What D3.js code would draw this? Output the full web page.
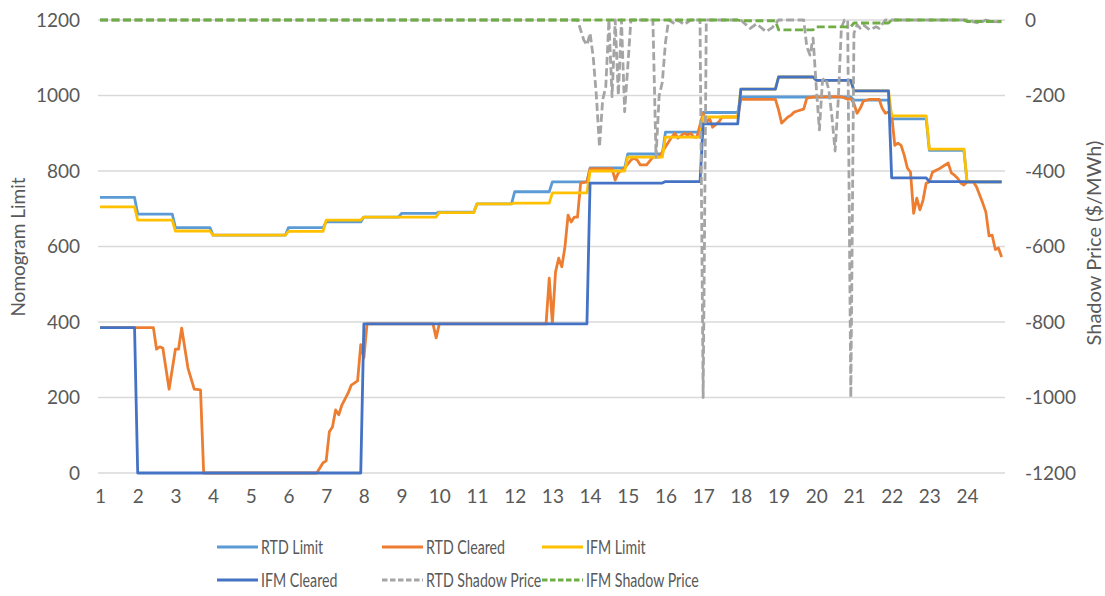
<!DOCTYPE html>
<html>
<head>
<meta charset="utf-8">
<script src="https://cdn.jsdelivr.net/npm/d3@7"></script>
<style>
  body { margin: 0; background: #fff; }
  text { font-family: Lato, "Noto Sans", sans-serif; fill: #595959; }
</style>
</head>
<body>
<svg id="chart" width="1105" height="596"></svg>
<script>
// ---- data -------------------------------------------------------------
// Hour labels for the category axis (one label every 12 five-minute intervals)
const hourTicks = ["1","2","3","4","5","6","7","8","9","10","11","12",
                   "13","14","15","16","17","18","19","20","21","22","23","24"];
const limitTicks = [0, 200, 400, 600, 800, 1000, 1200];
const priceTicks = [-1200, -1000, -800, -600, -400, -200, 0];

// Hourly values (MW) – applied to every 5-minute interval of the hour
const rtdLimitHourly   = [730, 686, 650, 630, 630, 650, 665, 678, 688, 691, 713, 745,
                          771, 808, 845, 903, 955, 996, 996, 996, 988, 938, 855, 771];
const ifmLimitHourly   = [705, 670, 641, 630, 630, 640, 670, 678, 678, 690, 713, 715,
                          742, 800, 837, 890, 943, 1017, 1049, 1040, 1012, 946, 858, 771];
const ifmClearedHourly = [385, 0, 0, 0, 0, 0, 0, 395, 395, 395, 395, 395,
                          395, 768, 768, 772, 925, 1017, 1049, 1040, 1012, 782, 772, 771];
// Hourly IFM shadow price ($/MWh)
const ifmShadowHourly  = [0, 0, 0, 0, 0, 0, 0, 0, 0, 0, 0, 0,
                          0, 0, 0, 0, 0, -2, -26, -18, -8, 0, 0, -4];

// Real-time cleared flow: [5-minute interval, MW]
const rtdCleared = [
  [0,385],[17,385],[18,328],[19,334],[20,331],[22,222],[24,328],[25,328],[26,384],[28,278],
  [30,222],[32,220],[33,0],[69,0],[71,27],[72,32],[73,109],[74,122],[75,167],[76,154],
  [77,180],[79,212],[80,233],[82,244],[83,340],[84,305],[85,395],[106,395],[107,358],[108,395],
  [142,395],[143,516],[144,397],[145,532],[146,569],[147,546],[148,599],[149,683],[150,665],[151,678],
  [152,678],[153,768],[155,771],[156,806],[163,806],[164,776],[165,795],[167,808],[169,829],[170,834],
  [171,829],[172,816],[174,816],[176,837],[178,837],[180,864],[181,877],[182,890],[183,900],[184,887],
  [186,900],[187,895],[188,900],[189,890],[190,890],[191,922],[192,953],[193,927],[194,940],[195,916],
  [197,930],[198,943],[203,943],[204,990],[215,990],[216,962],[217,927],[219,943],[220,948],[221,956],
  [222,959],[224,964],[225,993],[227,996],[236,997],[238,990],[239,992],[240,978],[241,953],[242,966],
  [243,985],[245,990],[248,990],[249,966],[250,953],[251,956],[252,950],[253,868],[254,874],[255,868],
  [256,842],[257,808],[258,797],[259,688],[260,728],[261,697],[262,723],[263,768],[264,771],[265,797],
  [267,805],[269,816],[270,821],[271,795],[272,789],[273,781],[274,768],[275,763],[276,771],[278,771],
  [279,758],[281,715],[282,691],[283,628],[284,630],[285,592],[286,596],[287,572]
];

// Real-time shadow price: [5-minute interval, $/MWh]
const rtdShadow = [
  [0,0],[152,0],[154,-53],[155,-66],[156,-35],[157,-98],[158,-200],[159,-336],[160,-212],[161,-177],
  [162,0],[163,-203],[164,0],[165,-199],[166,0],[167,-243],[168,-124],[169,0],[176,0],[177,-363],
  [178,-200],[179,-165],[180,-60],[181,0],[183,-10],[184,0],[186,-12],[188,0],[191,0],[192,-1000],
  [193,0],[204,0],[205,-8],[207,-22],[209,-10],[212,-31],[214,-20],[216,0],[224,0],[225,-71],
  [226,-93],[227,-48],[228,-177],[229,-291],[230,-159],[231,-154],[232,-185],[233,-257],[234,-347],[235,-212],
  [236,-20],[237,0],[238,0],[239,-1000],[240,-35],[241,-13],[242,-22],[243,-13],[245,-26],[247,-18],
  [248,-22],[250,0],[277,0],[278,-5],[280,-8],[282,0],[284,-4],[287,-5]
];

// ---- helpers ------------------------------------------------------------
const PER_HOUR = 12;
const toIntervals = hourly => hourly.flatMap((v, h) => d3.range(PER_HOUR).map(j => [h * PER_HOUR + j, v]));
const plainNumber = d => String(d);   // no thousands separator, ASCII minus

// ---- layout -------------------------------------------------------------
const svg = d3.select("#chart");
const plot = { left: 100, right: 1001.6, top: 20, bottom: 473, gridLeft: 98, gridRight: 1005 };

const x = d3.scaleLinear().domain([0, 287]).range([plot.left, plot.right]);
const yL = d3.scaleLinear().domain([0, 1200]).range([plot.bottom, plot.top]);
const yR = d3.scaleLinear().domain([-1200, 0]).range([plot.bottom, plot.top]);

// gridlines
svg.append("g").selectAll("line").data(limitTicks).join("line")
  .attr("x1", plot.gridLeft).attr("x2", plot.gridRight)
  .attr("y1", d => yL(d)).attr("y2", d => yL(d))
  .attr("stroke", "#d9d9d9").attr("stroke-width", 1.3);

// axes
const styleAxis = g => {
  g.select(".domain").remove();
  g.selectAll("text").attr("font-size", 19).style("fill", "#595959")
    .attr("font-family", "Lato, 'Noto Sans', sans-serif");
};
svg.append("g").attr("transform", `translate(${plot.gridLeft},0)`)
  .call(d3.axisLeft(yL).tickValues(limitTicks).tickFormat(plainNumber).tickSize(0).tickPadding(18))
  .call(styleAxis);
svg.append("g").attr("transform", `translate(${plot.gridRight},0)`)
  .call(d3.axisRight(yR).tickValues(priceTicks).tickFormat(plainNumber).tickSize(0).tickPadding(20))
  .call(styleAxis);
svg.append("g").attr("transform", `translate(0,${plot.bottom})`)
  .call(d3.axisBottom(x).tickValues(hourTicks.map((_, i) => i * PER_HOUR))
        .tickFormat((d, i) => hourTicks[i]).tickSize(0).tickPadding(17))
  .call(styleAxis);

// axis titles
svg.append("text").attr("transform", "translate(17,247) rotate(-90)")
  .attr("text-anchor", "middle").attr("dominant-baseline", "central")
  .attr("font-size", 19).text("Nomogram Limit");
svg.append("text").attr("transform", "translate(1093,243) rotate(-90)")
  .attr("text-anchor", "middle").attr("dominant-baseline", "central")
  .attr("font-size", 20).text("Shadow Price ($/MWh)");

// ---- series -------------------------------------------------------------
const series = [
  { name: "RTD Limit",         data: toIntervals(rtdLimitHourly),   y: yL, color: "#5b9bd5", dash: null },
  { name: "RTD Cleared",       data: rtdCleared,                    y: yL, color: "#ed7d31", dash: null },
  { name: "IFM Limit",         data: toIntervals(ifmLimitHourly),   y: yL, color: "#ffc000", dash: null },
  { name: "IFM Cleared",       data: toIntervals(ifmClearedHourly), y: yL, color: "#4472c4", dash: null },
  { name: "RTD Shadow Price",  data: rtdShadow,                     y: yR, color: "#a5a5a5", dash: "8,3.5" },
  { name: "IFM Shadow Price",  data: toIntervals(ifmShadowHourly),  y: yR, color: "#70ad47", dash: "8,3.5" }
];

const lines = svg.append("g").attr("fill", "none").attr("stroke-linejoin", "round");
series.forEach(s => {
  const gen = d3.line().x(d => x(d[0])).y(d => s.y(d[1]));
  lines.append("path").datum(s.data)
    .attr("d", gen)
    .attr("stroke", s.color)
    .attr("stroke-width", 2.8)
    .attr("stroke-dasharray", s.dash);
});

// ---- legend -------------------------------------------------------------
const legendCols = [217, 382, 542];
const legendRows = [547, 580];
const legend = svg.append("g");
series.forEach((s, i) => {
  const lx = legendCols[i % 3], ly = legendRows[Math.floor(i / 3)];
  legend.append("line")
    .attr("x1", lx).attr("x2", lx + 41).attr("y1", ly).attr("y2", ly)
    .attr("stroke", s.color).attr("stroke-width", 2.8)
    .attr("stroke-dasharray", s.dash ? "5.5,2.5" : null);
  legend.append("text")
    .attr("transform", `translate(${lx + 44},${ly}) scale(0.71,1)`)
    .attr("dominant-baseline", "central")
    .attr("font-size", 20)
    .text(s.name);
});
</script>
</body>
</html>
